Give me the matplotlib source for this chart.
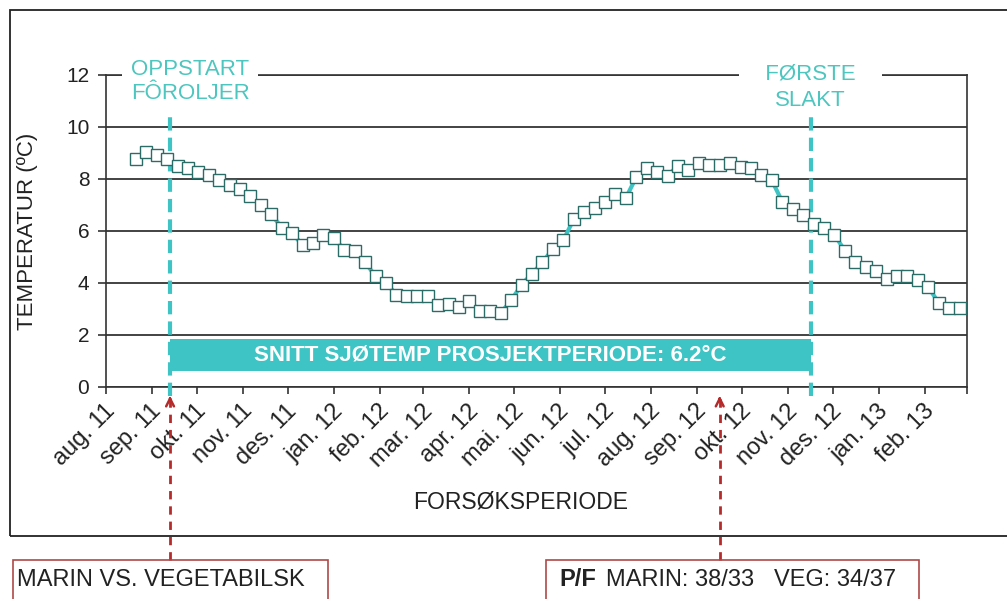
import numpy as np
import pandas as pd
import matplotlib
matplotlib.use("Agg")
import matplotlib.pyplot as plt
import matplotlib.dates as mdates
from matplotlib.patches import Rectangle
from matplotlib.transforms import blended_transform_factory

plt.rcParams.update({
    "font.family": ["Liberation Sans", "DejaVu Sans"],
    "font.size": 16,
})

# ---------------- data ----------------
first_week = "2011-08-21"
temps = [
    8.77, 9.03, 8.92, 8.77, 8.51, 8.42, 8.26, 8.15, 7.95, 7.78,
    7.62, 7.33, 7.01, 6.65, 6.12, 5.92, 5.45, 5.54, 5.85, 5.73,
    5.28, 5.22, 4.79, 4.26, 4.00, 3.55, 3.49, 3.49, 3.49, 3.17,
    3.21, 3.06, 3.29, 2.94, 2.94, 2.85, 3.33, 3.94, 4.36, 4.79,
    5.32, 5.64, 6.46, 6.72, 6.88, 7.10, 7.44, 7.27, 8.08, 8.42,
    8.26, 8.13, 8.51, 8.36, 8.62, 8.54, 8.54, 8.62, 8.46, 8.42,
    8.17, 7.95, 7.12, 6.85, 6.63, 6.28, 6.12, 5.86, 5.24, 4.79,
    4.62, 4.45, 4.15, 4.26, 4.26, 4.13, 3.85, 3.23, 3.04, 3.04,
]
month_labels = ["aug. 11", "sep. 11", "okt. 11", "nov. 11", "des. 11",
                "jan. 12", "feb. 12", "mar. 12", "apr. 12", "mai. 12",
                "jun. 12", "jul. 12", "aug. 12", "sep. 12", "okt. 12",
                "nov. 12", "des. 12", "jan. 13", "feb. 13"]
axis_start = "2011-08-01"
axis_end = "2013-03-01"
oppstart_date = "2011-09-13"
slakt_date = "2012-11-16"
pf_date = "2012-09-16"
mean_temp = 6.2

CYAN = "#3EC4C4"
CYAN_TXT = "#4DC6BF"
EDGE = "#2B6C67"
RED = "#B52A2A"
TXT = "#222222"

def dn(s):
    return mdates.date2num(pd.Timestamp(s).to_pydatetime())

dates = [d.to_pydatetime() for d in pd.date_range(first_week, periods=len(temps), freq="7D")]
months = pd.date_range(axis_start, axis_end, freq="MS")
# label anchors sit a few days into each month so the rotated text ends near mid-month
label_pos = [mdates.date2num((m + pd.Timedelta(days=4)).to_pydatetime()) for m in months[:-1]]
month_starts = [mdates.date2num(m.to_pydatetime()) for m in months]

W, H = 1007, 599
fig = plt.figure(figsize=(W / 100, H / 100), dpi=100)
ax = fig.add_axes([106 / W, 1 - 387 / H, (967 - 106) / W, (387 - 75) / H])

# project-period bar
x0, x1 = dn(oppstart_date), dn(slakt_date)
ax.barh(1.23, x1 - x0, left=x0, height=1.2, color=CYAN, zorder=2)
ax.text((x0 + x1) / 2, 1.23, f"SNITT SJØTEMP PROSJEKTPERIODE: {mean_temp}°C",
        ha="center", va="center", color="white", fontsize=16, fontweight="bold",
        zorder=4)

ax.plot(mdates.date2num(dates), temps, color=CYAN, lw=3, marker="s", ms=8.2,
        mfc="white", mec=EDGE, mew=1.0, zorder=5)

ax.set_ylim(0, 12)
ax.set_yticks(np.arange(0, 13, 2))
ax.set_xlim(dn(axis_start), dn(axis_end))
ax.yaxis.grid(True, color=TXT, lw=1.2)
ax.set_axisbelow(True)
for s in ax.spines.values():
    s.set_color("#333333")
    s.set_linewidth(1.2)

ax.set_xticks(month_starts)
ax.set_xticklabels([])
ax.set_xticks(label_pos, minor=True)
ax.set_xticklabels(month_labels, minor=True, rotation=45, ha="right",
                   va="center", rotation_mode="anchor")
ax.tick_params(axis="x", which="major", direction="out", length=5, width=1.2,
               color="#333333")
ax.tick_params(axis="x", which="minor", length=0, pad=15, labelsize=17,
               labelcolor=TXT)
ax.tick_params(axis="y", direction="out", length=6, width=1.2, color="#333333",
               labelsize=15, labelcolor=TXT, pad=6)

ax.set_ylabel("TEMPERATUR (ºC)", fontsize=16, color=TXT, va="center")
ax.yaxis.set_label_coords((28 - 106) / 861, 0.5)
ax.set_xlabel("FORSØKSPERIODE", fontsize=16.5, color=TXT, va="center")
ax.xaxis.set_label_coords((521 - 106) / 861, (387 - 502) / 312)

# event markers
for d in (oppstart_date, slakt_date):
    ax.axvline(dn(d), ymin=-0.03, ymax=0.88, color=CYAN, lw=3,
               ls=(0, (3.2, 1.7)), clip_on=False, zorder=3)

tr = blended_transform_factory(ax.transData, ax.transAxes)
ax.text(0.0976, 0.979, "OPPSTART\nFÔROLJER", transform=ax.transAxes,
        ha="center", va="center", color=CYAN_TXT, fontsize=16,
        linespacing=1.22,
        bbox=dict(boxstyle="square,pad=0.4", fc="white", ec="none"), zorder=6)
ax.text(dn(slakt_date), (387 - 74) / 312, "\u2002\u2002FØRSTE\u2002\u2002", transform=tr,
        ha="center", va="center", color=CYAN_TXT, fontsize=16,
        bbox=dict(boxstyle="square,pad=0.2", fc="white", ec="none"), zorder=6)
ax.text(dn(slakt_date), (387 - 101) / 312, "SLAKT", transform=tr,
        ha="center", va="center", color=CYAN_TXT, fontsize=16, zorder=6)

# red dashed arrows to the boxes below
for d in (oppstart_date, pf_date):
    x = dn(d)
    ax.plot([x, x], [(387 - 560) / 312, (387 - 398) / 312], transform=tr,
            color=RED, lw=2, ls=(0, (3, 2.5)), clip_on=False, zorder=6)
    ax.annotate("", xy=(x, (387 - 393) / 312), xytext=(x, (387 - 404) / 312),
                xycoords=tr, textcoords=tr, annotation_clip=False,
                arrowprops=dict(arrowstyle="->", color=RED, lw=1.8,
                                mutation_scale=14))

# outer chart frame
fig.patches.append(Rectangle((10 / W, 1 - 536 / H), 1.2, (536 - 10) / H,
                             transform=fig.transFigure, fill=False,
                             ec=TXT, lw=1.3))

# bottom boxes
fig.patches.append(Rectangle((13 / W, -0.1), (328 - 13) / W, 0.1 + 1 - 560 / H,
                             transform=fig.transFigure, fill=False,
                             ec="#B04848", lw=1.2))
fig.patches.append(Rectangle((546 / W, -0.1), (919 - 546) / W, 0.1 + 1 - 560 / H,
                             transform=fig.transFigure, fill=False,
                             ec="#B04848", lw=1.2))
fig.text(17 / W, 1 - 580 / H, "MARIN VS. VEGETABILSK", ha="left", va="center",
         fontsize=17, color=TXT)
fig.text(559 / W, 1 - 580 / H, "P/F", ha="left", va="center",
         fontsize=17, fontweight="bold", color=TXT)
fig.text(606 / W, 1 - 580 / H, "MARIN: 38/33   VEG: 34/37", ha="left",
         va="center", fontsize=17, color=TXT)

fig.savefig("out.png", dpi=100)
